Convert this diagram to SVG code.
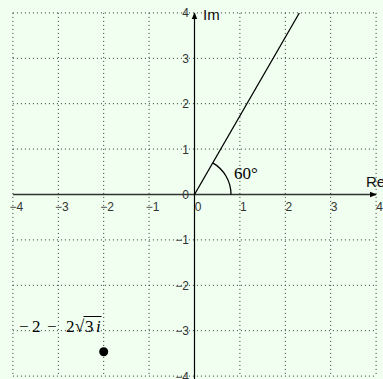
<svg xmlns="http://www.w3.org/2000/svg" width="383" height="379" viewBox="0 0 383 379">
<style>
.grid line{stroke:#333;stroke-width:1;stroke-dasharray:1 3}
.tick{font-family:"Liberation Sans",Arial,sans-serif;font-size:12px;fill:#333}
.xt{text-anchor:middle}
.yt{text-anchor:end}
.axlab{font-family:"Liberation Sans",Arial,sans-serif;font-size:15px;fill:#111}
.math{font-family:"Liberation Serif","DejaVu Serif",serif;font-size:17px;fill:#000}
</style>
<defs>
<marker id="arr" viewBox="0 0 8 8" refX="7" refY="4" markerWidth="7" markerHeight="7" orient="auto" markerUnits="userSpaceOnUse">
<path d="M0,0.8 L8,4 L0,7.2 Z" fill="#000"/>
</marker>
</defs>
<rect x="0" y="0" width="383" height="379" fill="#f0fff0"/>
<g class="grid">
<line x1="12.9" y1="12.9" x2="12.9" y2="376.1"/>
<line x1="58.3" y1="12.9" x2="58.3" y2="376.1"/>
<line x1="103.7" y1="12.9" x2="103.7" y2="376.1"/>
<line x1="149.1" y1="12.9" x2="149.1" y2="376.1"/>
<line x1="239.9" y1="12.9" x2="239.9" y2="376.1"/>
<line x1="285.3" y1="12.9" x2="285.3" y2="376.1"/>
<line x1="330.7" y1="12.9" x2="330.7" y2="376.1"/>
<line x1="376.1" y1="12.9" x2="376.1" y2="376.1"/>
<line x1="12.9" y1="12.9" x2="376.1" y2="12.9"/>
<line x1="12.9" y1="58.3" x2="376.1" y2="58.3"/>
<line x1="12.9" y1="103.7" x2="376.1" y2="103.7"/>
<line x1="12.9" y1="149.1" x2="376.1" y2="149.1"/>
<line x1="12.9" y1="239.9" x2="376.1" y2="239.9"/>
<line x1="12.9" y1="285.3" x2="376.1" y2="285.3"/>
<line x1="12.9" y1="330.7" x2="376.1" y2="330.7"/>
<line x1="12.9" y1="376.1" x2="376.1" y2="376.1"/>
</g>
<g id="axes">
<line x1="12.9" y1="194.5" x2="376" y2="194.5" stroke="#333" stroke-width="1.5" marker-end="url(#arr)"/>
<line x1="194.5" y1="379" x2="194.5" y2="13" stroke="#000" stroke-width="1.2" marker-end="url(#arr)"/>
</g>
<g id="xticks" class="tick xt">
<text x="16.4" y="211">−4</text>
<text x="61.8" y="211">−3</text>
<text x="107.2" y="211">−2</text>
<text x="152.6" y="211">−1</text>
<text x="198" y="211">0</text>
<text x="243.4" y="211">1</text>
<text x="288.8" y="211">2</text>
<text x="334.2" y="211">3</text>
<text x="379.6" y="211">4</text>
</g>
<g id="yticks" class="tick yt">
<text x="189" y="17.4">4</text>
<text x="189" y="62.8">3</text>
<text x="189" y="108.2">2</text>
<text x="189" y="153.6">1</text>
<text x="189" y="199">0</text>
<text x="189" y="244.4">−1</text>
<text x="189" y="289.8">−2</text>
<text x="189" y="335.2">−3</text>
<text x="189" y="380.6">−4</text>
</g>
<text class="axlab" x="203" y="20">Im</text>
<text class="axlab" x="366" y="187">Re</text>
<g id="ray">
<line x1="194.5" y1="194.5" x2="299.3" y2="13" stroke="#000" stroke-width="1.3"/>
<path d="M231,194.5 A36.5,36.5 0 0 0 212.75,162.9" fill="none" stroke="#000" stroke-width="1.3"/>
<text class="math" x="234" y="179" font-size="16">60°</text>
</g>
<g id="point">
<circle cx="103.7" cy="351.8" r="4.5" fill="#000"/>
<text class="math" y="332"><tspan x="19">−</tspan><tspan x="32">2</tspan><tspan x="47">−</tspan><tspan x="66">2</tspan><tspan x="75">√</tspan><tspan x="85">3</tspan><tspan x="96" font-style="italic">i</tspan></text>
<line x1="83.5" y1="316.5" x2="101.5" y2="316.5" stroke="#000" stroke-width="1"/>
</g>
</svg>
